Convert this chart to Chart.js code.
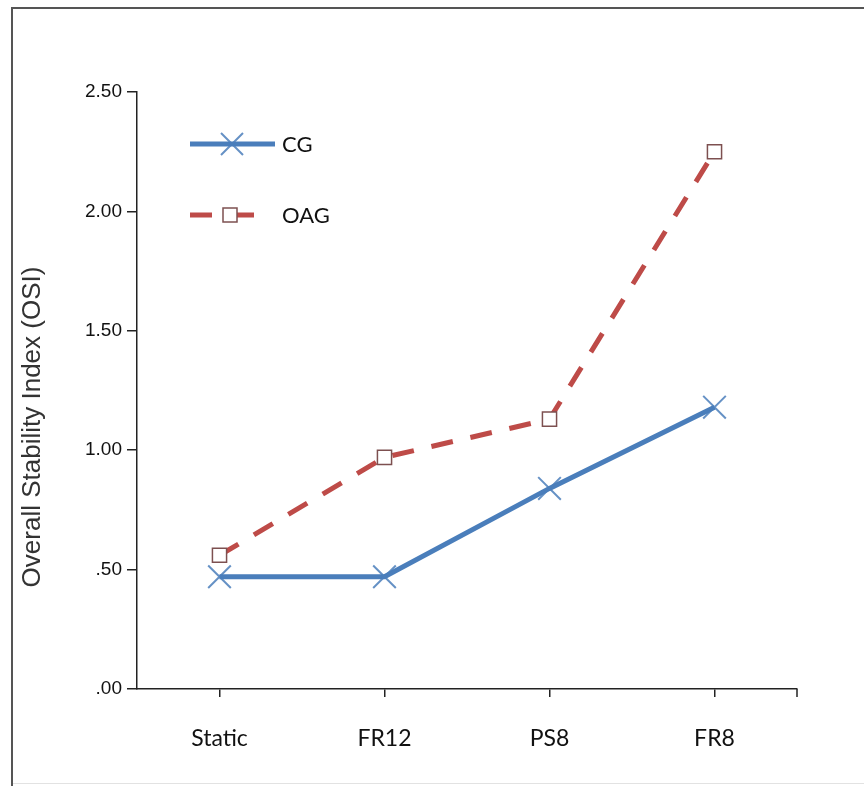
<!DOCTYPE html>
<html><head><meta charset="utf-8">
<script src="https://cdn.jsdelivr.net/npm/chart.js@4/dist/chart.umd.min.js"></script>
<style>
html,body{margin:0;padding:0;background:#fff;}
#wrap{position:relative;width:864px;height:786px;overflow:hidden;background:#fff;}
canvas{position:absolute;left:0;top:0;}
.fr{position:absolute;background:#555;}
</style></head>
<body>
<div id="wrap">
<canvas id="c" width="864" height="786"></canvas>
<div class="fr" style="left:11px;top:7px;width:853px;height:2px;"></div>
<div class="fr" style="left:11px;top:7px;width:2px;height:779px;"></div>
<div class="fr" style="left:13px;top:783px;width:851px;height:1px;background:#e2e2e2;"></div>
</div>
<script>
const categories = ['Static', 'FR12', 'PS8', 'FR8'];
const cgValues  = [0.47, 0.47, 0.84, 1.18];
const oagValues = [0.56, 0.97, 1.13, 2.25];
const seriesNames = ['CG', 'OAG'];
const yTicks = [0, 0.5, 1, 1.5, 2, 2.5];
const yTitle = 'Overall Stability Index (OSI)';

const cgColor = '#4a7ebb';
const oagColor = '#be4b48';
const sqColor = '#7d5050';

function fmt(v){ const s = v.toFixed(2); return v < 1 ? s.replace(/^0/, '') : s; }

const decor = {
  id: 'decor',
  afterDraw(chart){
    const ctx = chart.ctx, a = chart.chartArea;
    ctx.save();
    ctx.strokeStyle = '#222'; ctx.lineWidth = 1.5;
    ctx.beginPath(); ctx.moveTo(a.right, a.bottom); ctx.lineTo(a.right, a.bottom + 8); ctx.stroke();
    ctx.restore();

    // y title
    ctx.save();
    ctx.translate(33, 427); ctx.rotate(-Math.PI / 2);
    ctx.font = '26px "Liberation Sans", Arial, sans-serif';
    ctx.fillStyle = '#333'; ctx.textAlign = 'center'; ctx.textBaseline = 'middle';
    ctx.fillText(yTitle, 0, 0);
    ctx.restore();

    // legend
    ctx.save();
    let y = 144;
    ctx.strokeStyle = cgColor; ctx.lineWidth = 5; ctx.lineCap = 'butt';
    ctx.beginPath(); ctx.moveTo(190, y); ctx.lineTo(275, y); ctx.stroke();
    ctx.strokeStyle = 'rgba(74,126,187,0.85)'; ctx.lineWidth = 2;
    const r = 11;
    ctx.beginPath(); ctx.moveTo(232 - r, y - r); ctx.lineTo(232 + r, y + r);
    ctx.moveTo(232 + r, y - r); ctx.lineTo(232 - r, y + r); ctx.stroke();
    ctx.font = '22px Lato, "Open Sans", sans-serif';
    ctx.fillStyle = '#111'; ctx.textBaseline = 'middle'; ctx.textAlign = 'left';
    ctx.fillText(seriesNames[0], 282, y + 1);
    y = 215;
    ctx.strokeStyle = oagColor; ctx.lineWidth = 5;
    ctx.beginPath(); ctx.moveTo(190, y); ctx.lineTo(212, y); ctx.moveTo(236, y); ctx.lineTo(254, y); ctx.stroke();
    ctx.fillStyle = '#fff'; ctx.strokeStyle = sqColor; ctx.lineWidth = 1.5;
    ctx.fillRect(223, y - 7, 14, 14); ctx.strokeRect(223, y - 7, 14, 14);
    ctx.fillStyle = '#111';
    ctx.fillText(seriesNames[1], 282, y + 1);
    ctx.restore();
  }
};

new Chart(document.getElementById('c'), {
  type: 'line',
  data: {
    labels: categories,
    datasets: [
      {
        label: seriesNames[1], data: oagValues,
        borderColor: oagColor, borderWidth: 5, borderDash: [22, 18], borderCapStyle: 'butt',
        pointStyle: 'rect', pointRadius: 10, pointHoverRadius: 10,
        pointBackgroundColor: '#fff', pointBorderColor: sqColor, pointBorderWidth: 1.5,
        tension: 0, fill: false
      },
      {
        label: seriesNames[0], data: cgValues,
        borderColor: cgColor, borderWidth: 5,
        pointStyle: 'crossRot', pointRadius: 16, pointHoverRadius: 16,
        pointBorderColor: 'rgba(74,126,187,0.85)', pointBorderWidth: 2,
        tension: 0, fill: false
      }
    ]
  },
  options: {
    responsive: false,
    animation: false,
    events: [],
    layout: { padding: { top: 92, right: 67, left: 0, bottom: 0 } },
    plugins: { legend: { display: false }, tooltip: { enabled: false } },
    scales: {
      x: {
        type: 'category', offset: true,
        grid: { display: true, drawOnChartArea: false, drawTicks: true, tickLength: 8, color: '#222', lineWidth: 1.5 },
        border: { display: true, color: '#222', width: 1.5 },
        ticks: { color: '#111', font: { family: 'Lato, "Open Sans", sans-serif', size: 23 }, padding: 28, maxRotation: 0 },
        afterFit: s => { s.height = 97; }
      },
      y: {
        min: 0, max: 2.5,
        afterBuildTicks: s => { s.ticks = yTicks.map(v => ({ value: v })); },
        grid: { display: true, drawOnChartArea: false, drawTicks: true, tickLength: 10, color: '#222', lineWidth: 1.5 },
        border: { display: true, color: '#222', width: 1.5 },
        ticks: { color: '#111', font: { family: '"Liberation Sans", Arial, sans-serif', size: 19 }, padding: 5, callback: v => fmt(v) },
        afterFit: s => { s.width = 137; }
      }
    }
  },
  plugins: [decor]
});
</script>
</body></html>
